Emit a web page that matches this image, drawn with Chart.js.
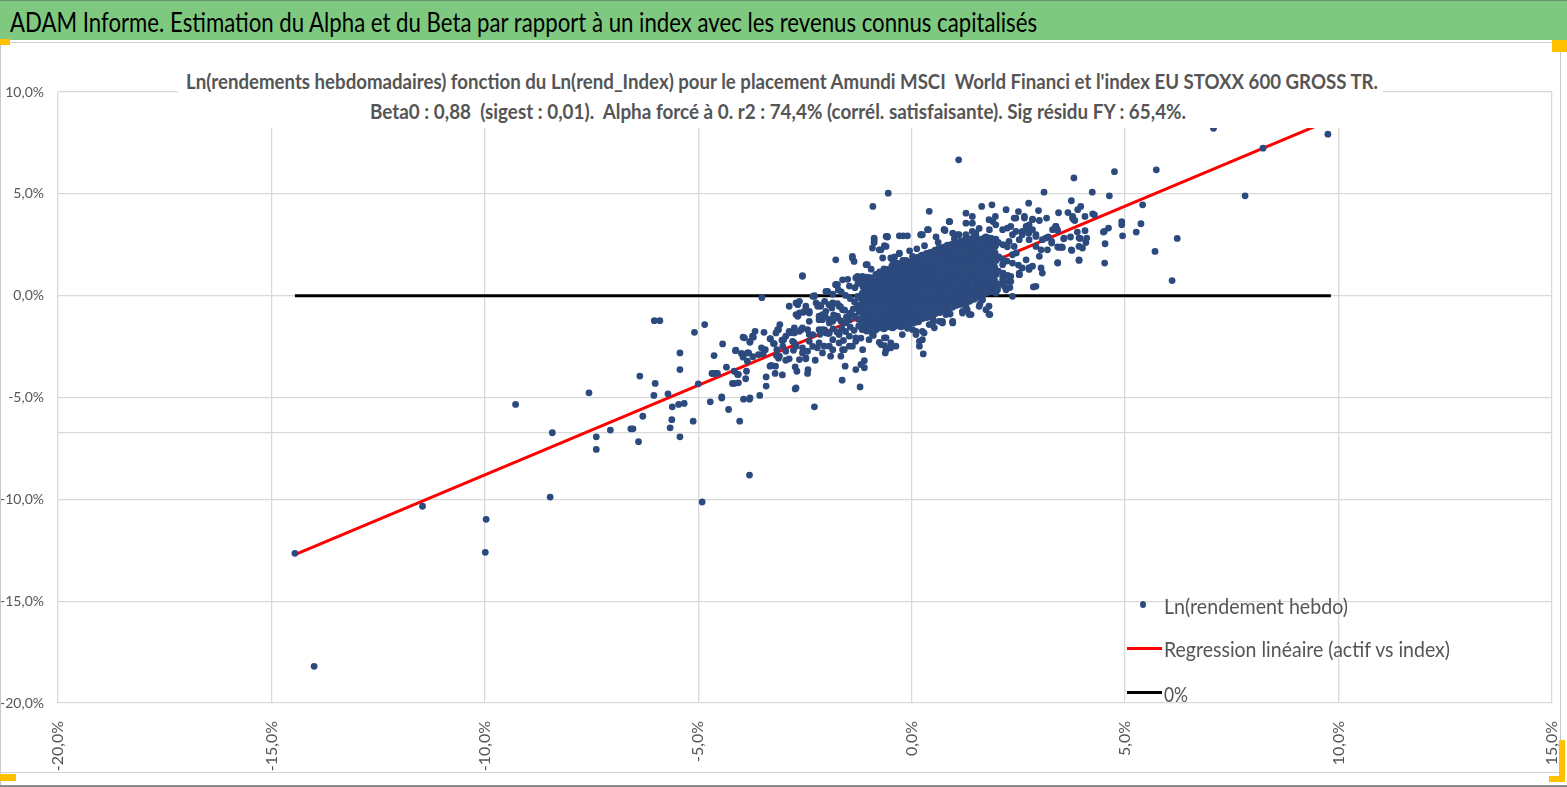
<!DOCTYPE html>
<html>
<head>
<meta charset="utf-8">
<script src="https://cdn.jsdelivr.net/npm/chart.js@4.4.1/dist/chart.umd.min.js"></script>
<style>
  html, body { margin: 0; padding: 0; background: #fff; }
  body { width: 1567px; height: 787px; position: relative; overflow: hidden; font-family: Lato, "Open Sans", sans-serif; }
  #graph { position: absolute; left: 0; top: 0; }
  .abs { position: absolute; }
  .fit { position: absolute; white-space: pre; transform-origin: 0 50%; line-height: 1; }
  #bar { left: 0; top: 0; width: 1567px; height: 40px; background: #7EC87F; border-top: 1px solid #6a8f6a; box-sizing: border-box; }
  #subbox { left: 178px; top: 50px; width: 1205px; height: 78px; background: #fff; }
  .sub { font-weight: bold; font-size: 21px; color: #555; }
  .leg { font-size: 21px; color: #555; }
  .hnd { position: absolute; background: #FFC000; }
</style>
</head>
<body>
<canvas id="graph" width="1567" height="787"></canvas>

<div id="bar" class="abs"></div>
<span class="fit" style="font-size:27px;color:#000;" data-x="10" data-y="21" data-w="1027">ADAM Informe. Estimation du Alpha et du Beta par rapport à un index avec les revenus connus capitalisés</span>

<div class="abs" style="left:0;top:42px;width:1567px;height:1px;background:#d0d0d0"></div>
<div class="abs" style="left:0;top:42px;width:1px;height:745px;background:#c8c8c8"></div>
<div class="abs" style="left:1560px;top:42px;width:1px;height:731px;background:#c8c8c8"></div>
<div class="abs" style="left:0;top:772px;width:1561px;height:1px;background:#d0d0d0"></div>
<div class="abs" style="left:0;top:785px;width:1567px;height:2px;background:#8a8a8a"></div>

<div id="subbox" class="abs"></div>
<span class="fit sub" data-x="186" data-y="80" data-w="1192">Ln(rendements hebdomadaires) fonction du Ln(rend_Index) pour le placement Amundi MSCI  World Financi et l'index EU STOXX 600 GROSS TR.</span>
<span class="fit sub" data-x="370" data-y="110" data-w="816">Beta0 : 0,88  (sigest : 0,01).  Alpha forcé à 0. r2 : 74,4% (corrél. satisfaisante). Sig résidu FY : 65,4%.</span>

<div class="abs" style="left:1140px;top:601px;width:6px;height:7px;border-radius:50%;background:#2C4A7E"></div>
<div class="abs" style="left:1127px;top:647px;width:35px;height:2.5px;background:#FF0000"></div>
<div class="abs" style="left:1127px;top:691px;width:35px;height:3px;background:#000"></div>
<span class="fit leg" data-x="1164" data-y="605" data-w="184">Ln(rendement hebdo)</span>
<span class="fit leg" data-x="1164" data-y="648" data-w="286">Regression linéaire (actif vs index)</span>
<span class="fit leg" data-x="1164" data-y="693" data-w="24">0%</span>

<div class="hnd" style="left:0;top:39px;width:10px;height:6px"></div>
<div class="hnd" style="left:1552px;top:40px;width:15px;height:12px"></div>
<div class="hnd" style="left:0;top:774px;width:16px;height:7px"></div>
<div class="hnd" style="left:1559px;top:740px;width:6px;height:42px"></div>
<div class="hnd" style="left:1549px;top:776px;width:16px;height:6px"></div>

<script>
// weekly log returns, [index %, fund %]
const tailPoints = [
  [-14.45,-12.65],[-14.0,-18.2],[-11.46,-10.34],[-9.97,-10.98],[-9.99,-12.6],[-9.28,-5.34],[-8.42,-6.73],[-8.47,-9.89],
  [-7.56,-4.77],[-7.39,-6.93],[-7.39,-7.55],[-7.06,-6.6],[-6.58,-6.54],[-6.53,-6.54],[-6.4,-7.17],[-6.37,-3.95],
  [-6.3,-5.92],[-6.03,-1.23],[-5.9,-1.23],[-6.01,-4.31],[-6.04,-4.9],[-5.71,-4.82],[-5.61,-5.46],[-5.46,-5.34],
  [-5.33,-5.29],[-5.62,-6.09],[-5.66,-6.49],[-5.43,-6.93],[-5.12,-6.16],[-5.43,-2.81],[-5.43,-3.63],[-5.09,-1.8],
  [-4.85,-1.42],[-5.0,-4.33],[-4.91,-10.13],[-3.8,-8.81],[-4.72,-5.21],[-4.45,-5.03],[-4.29,-5.59],[-4.03,-6.16],
  [-3.94,-5.08],[-3.8,-5.08],[-3.56,-4.9],[-2.28,-5.46],[-3.51,-0.1],[-2.56,0.98],
  [7.07,8.22],[9.75,7.93],[8.23,7.24],[7.81,4.9],[5.73,6.18],[4.75,6.09],[3.8,5.78],[4.23,5.08],[4.63,4.9],
  [3.74,4.66],[5.41,4.46],[5.7,2.17],[6.22,2.81],[6.1,0.74],[1.1,6.67],[-0.55,5.03],[-0.91,4.38],[2.85,0.43],
  [1.81,-0.91],[0.27,-2.86],[3.1,5.08]
];

const lowerBand = [
  [-4.66,-3.82],[-4.55,-3.82],[-4.34,-3.51],[-4.63,-2.94],[-4.43,-2.37],[-4.13,-2.7],[-4.16,-3.71],[-4.06,-3.87],
  [-4.16,-4.31],[-4.06,-4.28],[-3.89,-4.08],[-3.95,-2.04],[-3.79,-2.29],[-3.71,-2.04],[-3.67,-1.75],[-3.99,-2.84],
  [-3.85,-2.81],[-3.72,-3.0],[-3.85,-3.22],[-3.95,-3.02],[-3.46,-1.8],[-3.52,-2.56],[-3.59,-2.89],[-3.48,-2.86],
  [-3.41,-3.99],[-3.41,-4.44],[-3.31,-2.11],[-3.24,-2.35],[-3.16,-2.65],[-3.29,-3.43],[-3.2,-3.82],[-3.19,-3.46],
  [-3.03,-3.89],[-3.09,-1.42],[-3.14,-1.67],[-3.0,-2.16],[-3.1,-2.97],[-2.95,-3.17],[-2.85,-1.82],[-2.75,-2.32],
  [-2.77,-2.68],[-2.73,-3.5],[-2.69,-3.71],[-2.73,-4.58],[-2.43,-3.63],[-2.44,-3.82],[-2.48,-3.1],[-2.56,-2.81],
  [-2.32,-2.49],[-2.59,-1.67],[-2.67,-0.44],[-2.54,-0.82],[-2.26,-3.17],[-2.17,-2.32],[-2.87,-0.52],[-1.63,-4.15],
  [-1.21,-4.48],[-1.56,-3.46],[-1.11,-3.19],[-1.11,-3.54],[-1.19,-3.38],[-2.01,-1.83],[-1.85,-2.65],[-2.09,-1.18],
  [-1.7,-2.32],[-2.17,-1.18],[-4.12,-2.68],[-3.92,-2.07],[-3.82,-2.81],[-3.79,-2.24],[-3.73,-1.99],[-3.32,-2.12],
  [-3.43,-2.65],[-3.22,-2.35],[-3.18,-1.83],[-3.12,-1.67],[-3.04,-2.19],[-3.17,-2.94],[-3.12,-3.07],[-3.32,-3.46],
  [-3.87,-3.71],[-4.08,-3.87],[-4.2,-4.31],[-4.6,-3.82],[-4.68,-3.82],[-3.79,-5.02],[-4.45,-4.97],[-2.71,-4.53],
  [-1.31,-3.63],[-2.71,-0.36],[-2.63,-0.85],[-2.52,-0.77],[-2.67,-1.01],[-2.28,0.0],[-2.24,-0.36],[-2.13,-0.52],
  [-2.17,-1.01],[-2.01,-0.77],[-1.93,-1.34],[-1.78,0.54],[-1.85,-0.36],[-1.74,-1.01],[-1.62,-0.69],[-1.54,-1.34],
  [-1.46,-0.93],[-1.31,0.87],[-1.27,-0.03],[-1.23,-0.69],[-1.7,-1.83],[-1.46,-1.99],[-1.85,-2.16],[-2.05,-2.48],
  [-2.21,-2.56],[-2.32,-1.91],[-2.44,-1.67],[-2.56,-1.58],[-2.63,-1.75],[-2.75,-1.83],[-2.87,-1.75],[-2.95,-1.99],
  [-2.79,-2.24],[-2.71,-2.48],[-2.56,-2.56],[-2.44,-2.73],[-2.48,-3.05],[-2.63,-3.14],[-2.87,-3.1],[-2.95,-2.73],
  [-3.02,-2.48],[-2.4,-2.24],[-2.17,-1.67],[-1.93,-1.83],[-1.62,-2.65],[-1.46,-2.48],[-1.31,-2.24],[-1.15,-1.67],
  [-1.15,-2.65],[-1.11,-1.01],[-1.07,-0.36],
  [1.83,-0.93],[1.74,-0.69],[1.19,-0.77],[0.96,-1.31],[0.72,-1.34],[0.53,-1.58],[0.29,-1.83],[0.25,-2.16],
  [0.18,-2.24],[0.18,-2.48],[-0.37,-2.48],[-0.49,-2.56],[-0.64,-2.45],[-0.62,-2.81],[-0.76,-2.29],[-1.0,-2.16],
  [-1.19,-2.08],[-1.39,-2.48],[-1.58,-2.65],[-1.66,-2.97],[-1.9,-2.97],[-1.93,-2.48],[-2.05,-1.75],[-2.09,-2.81],
  [-0.6,-2.65],[-0.49,-2.32],[-0.72,-2.4],[-0.64,-2.07],[-0.22,-1.91],[0.02,-1.67],[0.1,-1.91],[0.25,-1.75],
  [0.49,-1.34],[0.64,-1.26],[0.8,-0.93],[0.96,-1.34],[1.27,-0.52],[1.39,-0.93],[1.58,-0.52],[1.66,-0.2],
  [1.81,-0.52],[1.97,0.13],[2.01,0.29],[2.13,0.62]
];

const upperBand = [
  [3.89,4.22],[3.96,4.38],[3.66,4.08],[3.44,4.07],[4.24,4.02],[4.28,3.97],[4.06,3.89],[3.77,3.81],[3.82,3.69],
  [4.92,3.64],[4.92,3.48],[5.37,3.53],[5.26,3.12],[4.94,2.94],[4.61,3.32],[4.51,3.15],[4.53,2.55],[4.52,1.6],
  [4.08,2.61],[3.92,2.42],[3.74,2.25],[3.92,1.76],[3.42,1.6],[3.45,2.37],[3.53,2.37],[3.57,2.83],[3.92,2.83],
  [4.1,2.83],[2.74,4.54],[2.97,4.18],[2.83,3.76],[2.99,3.69],[3.16,3.81],[3.38,3.4],[3.42,3.2],[3.2,2.88],
  [3.06,2.75],[2.91,2.42],[3.03,2.25],[3.18,2.25],[3.28,2.58],[3.3,3.24],[3.14,2.83],[2.74,3.07],[2.5,4.13],
  [2.4,3.81],[2.32,3.4],[2.64,3.81],[2.68,3.4],[2.52,2.75],[2.4,2.42],[2.75,2.75],[2.83,3.24],[2.99,1.93],
  [3.03,1.36],[3.06,1.11],[2.75,1.36],[2.52,1.03],[2.32,0.7],[2.17,0.46],[2.36,-0.03],[2.0,0.29],[2.13,0.95],
  [1.64,4.38],[1.88,4.46],[1.96,3.89],[1.9,3.64],[1.82,3.24],[2.13,3.24],[2.36,2.99],[1.9,2.75],[1.7,2.83],
  [1.51,2.91],[1.27,4.05],[1.42,3.56],[0.88,3.64],[0.76,3.24],[0.41,4.14],[0.39,3.24],[0.21,2.99],[0.57,2.88],
  [0.96,3.07],[1.11,2.99],[1.27,2.99],[1.42,3.15],[3.77,3.89],[3.78,3.76],[3.72,2.88],[3.75,2.22],[3.56,2.79],
  [3.51,2.39],[3.42,2.39],[3.42,1.62],[3.37,3.4],[3.4,3.28],[3.28,2.66],[4.0,2.34],[4.06,3.19],[3.95,2.81],
  [3.92,1.73],[3.88,3.12],[4.49,3.12],[2.21,4.22],[2.64,3.89],[2.83,3.73],[2.44,3.15],[2.59,2.99],[2.71,3.24],
  [2.91,2.91],[2.83,1.45],[2.75,1.29],[2.52,1.11],[2.32,0.95],[2.13,0.78],[2.21,0.29],[2.68,1.76],[2.36,1.6],
  [-0.2,2.94],[-0.1,2.94],[0.22,2.99],[0.37,3.24],[0.78,3.2],[1.07,2.99],[1.5,3.07],[0.89,3.64],
  [-0.88,2.83],[-0.88,2.61],[-0.72,2.25],[-0.64,2.45],[-0.57,2.91],[-0.49,1.85],[-0.29,2.06],[-0.25,1.49],
  [-0.21,1.73],[-0.41,1.32],[-0.53,0.91],[-0.64,0.67],[-0.76,0.99],[-1.0,0.83],[-1.23,0.75],[-1.39,1.85],
  [-1.35,1.68],[-1.04,1.52],[-1.27,0.95],[-1.74,0.54],[-1.97,0.21],[-1.78,1.76],[-1.39,1.93],[-1.07,1.52],
  [-0.76,2.25],[-0.88,2.75],[-0.57,2.88],[-0.29,2.94],[-0.72,0.95],[-1.15,0.95],[-0.29,2.09],[0.02,1.93],
  [-2.28,-0.03],[-2.2,-0.52],[-1.76,0.54],[-2.48,-0.52],[-1.62,0.78],[-2.4,-0.85],
  [0.12,2.3],[0.3,2.45],[0.62,2.62],[1.0,2.8],[1.58,3.3],[-0.05,2.2],[-0.4,1.9],[-0.95,1.3],[-1.5,0.8],
  [0.5,-1.15],[0.9,-0.9],[1.3,-0.7],[-0.1,-1.6],[-0.9,-1.95],[-1.6,-2.2],[1.6,-0.4],[2.3,0.4],[2.45,2.1],[2.5,1.5]
];

// dots seen around the centre in the close-up
const haloPoints = [
  [-0.6,2.91],[-0.92,2.34],[-0.6,2.42],[0.25,2.99],[0.76,3.24],[0.88,3.64],[1.27,3.56],[1.42,3.89],[1.81,3.73],
  [1.97,3.48],[2.24,3.32],[2.44,3.81],[2.59,3.15],[2.75,3.48],[2.91,2.99],[2.28,2.66],[1.97,2.75],
  [-0.68,1.85],[-0.45,1.76],[-0.29,1.36],[-0.53,1.03],[-1.27,0.87],[-1.78,0.54],[-2.01,0.21],[-2.56,0.95],
  [-2.32,-0.03],[-2.63,-0.28],[-2.4,-0.77],[-2.09,-0.93],[-1.7,-0.52],[-1.85,-1.26],[-2.4,-1.26],[-2.71,-0.93],
  [-2.75,-1.58],[-2.4,-1.91],[-2.09,-1.67],[-1.7,-1.91],[-1.31,-2.07],[-0.92,-1.91],[-0.6,-2.07],[-0.53,-2.56],
  [0.1,-1.75],[0.41,-1.42],[0.72,-1.26],[0.96,-1.26],[1.19,-0.85],[1.35,-0.93],
  [2.59,1.36],[2.75,1.36],[2.91,0.46],[2.52,1.03],[2.21,0.7],[2.13,1.52],[2.36,2.01]
];

// loose dots round the solid centre
const coreFringe = [
  [-2.15,-1.9],[-2.16,-1.18],[-2.14,-0.47],[-2.04,-1.68],[-2.03,-0.98],[-2.04,-0.28],
  [-1.95,-1.86],[-1.93,-1.16],[-1.94,-0.44],[-1.84,-1.63],[-1.83,-0.94],[-1.87,-0.6],[-1.85,0.07],
  [-1.75,-1.79],[-1.73,-1.1],[-1.74,-0.39],[-1.72,0.28],[-1.64,-1.58],[-1.66,-1.24],[-1.67,-0.54],[-1.65,0.18],
  [-1.55,-1.76],[-1.53,-1.05],[-1.57,-0.71],[-1.55,0.01],[-1.44,-1.54],[-1.46,-1.2],[-1.43,-0.85],[-1.44,-0.14],[-1.46,0.47],
  [-1.35,-1.7],[-1.33,-1.0],[-1.37,-0.66],[-1.34,-0.31],[-1.33,0.39],
  [-1.24,-1.49],[-1.26,-1.15],[-1.23,-0.8],[-1.27,-0.45],[-1.24,-0.1],[-1.26,0.6],
  [-1.16,0.76],[-1.04,0.91],[-0.84,1.05],[-0.75,1.17],[-0.65,1.32],
  [2.05,0.55],[2.03,1.2],[2.04,1.9],[2.03,2.6],[2.14,1.1],[2.13,1.8],[2.14,2.5],[2.25,1.0],[2.23,1.7],[2.24,2.4]
];

// solid centre of the cloud, read column by column
const corePoints = [
  [-1.15,-1.64],[-1.16,-1.3],[-1.13,-0.95],[-1.17,-0.6],[-1.14,-0.25],[-1.15,0.1],[-1.13,0.45],
  [-1.05,-1.71],[-1.04,-1.44],[-1.06,-1.1],[-1.03,-0.75],[-1.07,-0.4],[-1.04,-0.05],[-1.05,0.3],[-1.06,0.62],
  [-0.95,-1.6],[-0.96,-1.25],[-0.93,-0.9],[-0.97,-0.55],[-0.94,-0.2],[-0.95,0.15],[-0.93,0.5],[-0.96,0.85],
  [-0.85,-1.66],[-0.84,-1.4],[-0.86,-1.05],[-0.83,-0.7],[-0.87,-0.35],[-0.84,0.0],[-0.85,0.35],[-0.86,0.7],
  [-0.75,-1.55],[-0.76,-1.2],[-0.73,-0.85],[-0.77,-0.5],[-0.74,-0.15],[-0.75,0.2],[-0.73,0.55],[-0.76,0.9],
  [-0.65,-1.6],[-0.64,-1.35],[-0.66,-1.0],[-0.63,-0.65],[-0.67,-0.3],[-0.64,0.05],[-0.65,0.4],[-0.66,0.75],[-0.64,1.1],
  [-0.55,-1.5],[-0.56,-1.15],[-0.53,-0.8],[-0.57,-0.45],[-0.54,-0.1],[-0.55,0.25],[-0.53,0.6],[-0.56,0.95],[-0.55,1.26],
  [-0.45,-1.55],[-0.44,-1.3],[-0.46,-0.95],[-0.43,-0.6],[-0.47,-0.25],[-0.44,0.1],[-0.45,0.45],[-0.46,0.8],[-0.44,1.15],[-0.45,1.46],
  [-0.35,-1.45],[-0.36,-1.1],[-0.33,-0.75],[-0.37,-0.4],[-0.34,-0.05],[-0.35,0.3],[-0.33,0.65],[-0.36,1.0],[-0.35,1.3],[-0.34,1.57],
  [-0.25,-1.5],[-0.24,-1.25],[-0.26,-0.9],[-0.23,-0.55],[-0.27,-0.2],[-0.24,0.15],[-0.25,0.5],[-0.26,0.85],[-0.24,1.2],[-0.25,1.5],
  [-0.15,-1.4],[-0.16,-1.05],[-0.13,-0.7],[-0.17,-0.35],[-0.14,0.0],[-0.15,0.35],[-0.13,0.7],[-0.16,1.05],[-0.15,1.4],[-0.14,1.7],
  [-0.05,-1.36],[-0.04,-1.15],[-0.06,-0.85],[-0.03,-0.5],[-0.07,-0.15],[-0.04,0.2],[-0.05,0.55],[-0.06,0.9],[-0.04,1.25],[-0.05,1.6],
  [0.05,-1.3],[0.06,-1.0],[0.03,-0.65],[0.07,-0.3],[0.04,0.05],[0.05,0.4],[0.03,0.75],[0.06,1.1],[0.05,1.45],[0.04,1.8],
  [0.15,-1.25],[0.14,-0.9],[0.16,-0.55],[0.13,-0.2],[0.17,0.15],[0.14,0.5],[0.15,0.85],[0.16,1.2],[0.14,1.55],[0.15,1.86],
  [0.25,-1.1],[0.26,-0.8],[0.23,-0.45],[0.27,-0.1],[0.24,0.25],[0.25,0.6],[0.23,0.95],[0.26,1.3],[0.25,1.65],[0.24,1.96],
  [0.35,-1.05],[0.34,-0.7],[0.36,-0.35],[0.33,0.0],[0.37,0.35],[0.34,0.7],[0.35,1.05],[0.36,1.4],[0.34,1.75],[0.35,2.05],
  [0.45,-0.95],[0.46,-0.65],[0.43,-0.3],[0.47,0.05],[0.44,0.4],[0.45,0.75],[0.43,1.1],[0.46,1.45],[0.45,1.8],[0.44,2.1],
  [0.55,-0.85],[0.54,-0.55],[0.56,-0.2],[0.53,0.15],[0.57,0.5],[0.54,0.85],[0.55,1.2],[0.56,1.55],[0.54,1.9],[0.55,2.2],
  [0.65,-0.8],[0.66,-0.45],[0.63,-0.1],[0.67,0.25],[0.64,0.6],[0.65,0.95],[0.63,1.3],[0.66,1.65],[0.65,2.0],[0.64,2.3],
  [0.75,-0.7],[0.74,-0.4],[0.76,-0.05],[0.73,0.3],[0.77,0.65],[0.74,1.0],[0.75,1.35],[0.76,1.7],[0.74,2.05],[0.75,2.35],
  [0.85,-0.6],[0.86,-0.3],[0.83,0.05],[0.87,0.4],[0.84,0.75],[0.85,1.1],[0.83,1.45],[0.86,1.8],[0.85,2.15],[0.84,2.45],
  [0.95,-0.55],[0.94,-0.2],[0.96,0.15],[0.93,0.5],[0.97,0.85],[0.94,1.2],[0.95,1.55],[0.96,1.9],[0.94,2.25],[0.95,2.5],
  [1.05,-0.45],[1.06,-0.15],[1.03,0.2],[1.07,0.55],[1.04,0.9],[1.05,1.25],[1.03,1.6],[1.06,1.95],[1.05,2.3],[1.04,2.55],
  [1.15,-0.4],[1.14,-0.05],[1.16,0.3],[1.13,0.65],[1.17,1.0],[1.14,1.35],[1.15,1.7],[1.16,2.05],[1.14,2.4],[1.15,2.65],
  [1.25,-0.3],[1.26,0.0],[1.23,0.35],[1.27,0.7],[1.24,1.05],[1.25,1.4],[1.23,1.75],[1.26,2.1],[1.25,2.45],[1.24,2.7],
  [1.35,-0.25],[1.34,0.1],[1.36,0.45],[1.33,0.8],[1.37,1.15],[1.34,1.5],[1.35,1.85],[1.36,2.2],[1.34,2.55],[1.35,2.76],
  [1.45,-0.15],[1.46,0.15],[1.43,0.5],[1.47,0.85],[1.44,1.2],[1.45,1.55],[1.43,1.9],[1.46,2.25],[1.45,2.6],[1.44,2.8],
  [1.55,-0.05],[1.54,0.25],[1.56,0.6],[1.53,0.95],[1.57,1.3],[1.54,1.65],[1.55,2.0],[1.56,2.35],[1.54,2.7],
  [1.65,0.05],[1.66,0.3],[1.63,0.65],[1.67,1.0],[1.64,1.35],[1.65,1.7],[1.63,2.05],[1.66,2.4],[1.65,2.75],
  [1.75,0.15],[1.74,0.45],[1.76,0.8],[1.73,1.15],[1.77,1.5],[1.74,1.85],[1.75,2.2],[1.76,2.55],[1.74,2.85],
  [1.85,0.25],[1.86,0.5],[1.83,0.85],[1.87,1.2],[1.84,1.55],[1.85,1.9],[1.83,2.25],[1.86,2.6],[1.85,2.8],
  [1.95,0.4],[1.94,0.7],[1.96,1.05],[1.93,1.4],[1.97,1.75],[1.94,2.1],[1.95,2.45],[1.96,2.75]
];

// fitted line (beta 0.88, alpha 0) and the 0% reference, end points as drawn
const regressionLine = [[-14.45,-12.72],[9.8,8.62]];
const zeroLine = [[-14.45,0],[9.82,0]];

const xTicks = [-20,-15,-10,-5,0,5,10,15];
const yTicks = [-20,-15,-10,-5,0,5,10];
const strayGrid = -6.72;  // extra light line visible between -5% and -10%

const toXY = arr => arr.map(p => ({ x: p[0], y: p[1] }));
const pct = v => v.toFixed(1).replace('.', ',') + '%';
const FONT = 'Lato, "Open Sans", sans-serif';
const DOT = '#2C4A7E';

var ctx = document.getElementById('graph').getContext('2d');
var chart = new Chart(ctx, {
  type: 'scatter',
  data: {
    datasets: [{
      label: 'Ln(rendement hebdo)',
      data: toXY(tailPoints.concat(lowerBand, upperBand, haloPoints, coreFringe)),
      backgroundColor: DOT,
      borderWidth: 0,
      pointRadius: 3.4,
      pointHoverRadius: 3.4,
      order: 0
    }, {
      label: 'Ln(rendement hebdo) centre',
      data: toXY(corePoints),
      backgroundColor: DOT,
      borderWidth: 0,
      pointRadius: 4,
      pointHoverRadius: 4,
      order: 0
    }, {
      label: 'Regression linéaire (actif vs index)',
      data: toXY(regressionLine),
      showLine: true,
      borderColor: '#FF0000',
      borderWidth: 3,
      pointRadius: 0,
      order: 1
    }, {
      label: '0%',
      data: toXY(zeroLine),
      showLine: true,
      borderColor: '#000000',
      borderWidth: 3,
      pointRadius: 0,
      order: 2
    }]
  },
  options: {
    responsive: false,
    animation: false,
    events: [],
    layout: { padding: { left: 0, right: 15, top: 92, bottom: 12 } },
    plugins: { legend: { display: false }, title: { display: false }, tooltip: { enabled: false } },
    scales: {
      x: {
        type: 'linear', min: -20, max: 15,
        afterBuildTicks: s => { s.ticks = xTicks.map(v => ({ value: v })); },
        afterFit: s => { s.height = 72; s.paddingLeft = 0; s.paddingRight = 0; },
        ticks: { minRotation: 90, maxRotation: 90, padding: 18, color: '#555',
                 font: { family: FONT, size: 16 }, callback: v => pct(v) },
        grid: { color: '#D9D9D9', lineWidth: 1.3, drawTicks: false },
        border: { display: false }
      },
      y: {
        type: 'linear', min: -20, max: 10,
        afterBuildTicks: s => { s.ticks = yTicks.concat([strayGrid]).map(v => ({ value: v })); },
        afterFit: s => { s.width = 58; s.paddingTop = 0; s.paddingBottom = 0; },
        ticks: { padding: 14, color: '#555', font: { family: FONT, size: 14 },
                 callback: v => (yTicks.indexOf(v) >= 0 ? pct(v) : '') },
        grid: { color: '#D9D9D9', lineWidth: 1.3, drawTicks: false },
        border: { display: false }
      }
    }
  }
});

// squeeze the html texts to the widths they take in the picture
function fitTexts() {
  document.querySelectorAll('.fit').forEach(el => {
    el.style.transform = 'none';
    const r = el.getBoundingClientRect();
    const k = (+el.dataset.w) / r.width;
    el.style.left = el.dataset.x + 'px';
    el.style.top = (+el.dataset.y - r.height / 2) + 'px';
    el.style.transform = 'scaleX(' + k + ')';
  });
}
fitTexts();
document.fonts.ready.then(() => { fitTexts(); chart.update('none'); });
</script>
</body>
</html>
